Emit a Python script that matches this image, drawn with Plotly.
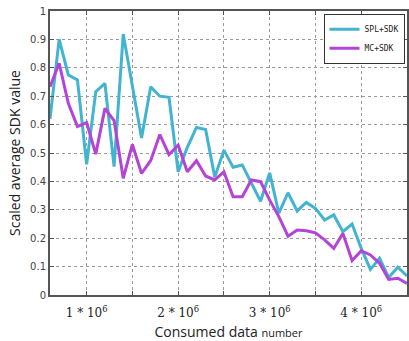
import plotly.graph_objects as go

x_vals = [0.6e6, 0.7e6, 0.8e6, 0.9e6, 1.0e6, 1.1e6, 1.2e6, 1.3e6, 1.4e6, 1.5e6,
          1.6e6, 1.7e6, 1.8e6, 1.9e6, 2.0e6, 2.1e6, 2.2e6, 2.3e6, 2.4e6, 2.5e6,
          2.6e6, 2.7e6, 2.8e6, 2.9e6, 3.0e6, 3.1e6, 3.2e6, 3.3e6, 3.4e6, 3.5e6,
          3.6e6, 3.7e6, 3.8e6, 3.9e6, 4.0e6, 4.1e6, 4.2e6, 4.3e6, 4.4e6, 4.5e6]

spl_sdk = [0.62, 0.90, 0.775, 0.757, 0.46, 0.716, 0.745, 0.452, 0.919, 0.735,
           0.553, 0.733, 0.70, 0.696, 0.434, 0.52, 0.59, 0.583, 0.415, 0.51,
           0.45, 0.458, 0.395, 0.33, 0.43, 0.288, 0.36, 0.296, 0.326, 0.305,
           0.264, 0.282, 0.223, 0.25, 0.164, 0.09, 0.129, 0.062, 0.098, 0.067]

mc_sdk = [0.733, 0.816, 0.675, 0.593, 0.607, 0.496, 0.657, 0.614, 0.411, 0.53,
          0.428, 0.473, 0.565, 0.494, 0.528, 0.434, 0.473, 0.419, 0.405, 0.434,
          0.346, 0.346, 0.405, 0.399, 0.334, 0.276, 0.207, 0.229, 0.226, 0.219,
          0.194, 0.164, 0.217, 0.121, 0.156, 0.141, 0.112, 0.055, 0.059, 0.041]

x_tickvals = [0.5e6, 1.0e6, 1.5e6, 2.0e6, 2.5e6, 3.0e6, 3.5e6, 4.0e6, 4.5e6]
x_ticktext = ["", "1 * 10<sup>6</sup>", "", "2 * 10<sup>6</sup>", "",
              "3 * 10<sup>6</sup>", "", "4 * 10<sup>6</sup>", ""]
y_tickvals = [0, 0.1, 0.2, 0.3, 0.4, 0.5, 0.6, 0.7, 0.8, 0.9, 1.0]
y_ticktext = ["0", "0.1", "0.2", "0.3", "0.4", "0.5", "0.6", "0.7", "0.8", "0.9", "1"]

fig = go.Figure()
fig.add_trace(go.Scatter(x=x_vals, y=spl_sdk, mode="lines", name="SPL+SDK",
                         line=dict(color="#42b4cf", width=3)))
fig.add_trace(go.Scatter(x=x_vals, y=mc_sdk, mode="lines", name="MC+SDK",
                         line=dict(color="#b444d8", width=3)))

axis_common = dict(
    showline=True, linecolor="#555555", linewidth=2, mirror="ticks",
    ticks="inside", ticklen=4, tickcolor="#555555",
    showgrid=True, gridcolor="#9a9a9a", griddash="dot", gridwidth=1,
    zeroline=False,
)

fig.update_layout(
    width=409, height=341,
    margin=dict(l=50, r=0, t=11, b=46),
    paper_bgcolor="white", plot_bgcolor="white",
    showlegend=True,
    legend=dict(x=0.993, y=0.99, xanchor="right", yanchor="top",
                bgcolor="white", bordercolor="#333333", borderwidth=1,
                font=dict(family="DejaVu Sans Mono", size=8, color="#222"),
                tracegroupgap=0, itemwidth=30),
    xaxis=dict(range=[0.6e6, 4.5e6], tickmode="array", tickvals=x_tickvals,
               ticktext=x_ticktext, ticklabelstandoff=6,
               tickfont=dict(family="DejaVu Serif", size=12, color="#222"),
               title=dict(text="Consumed data <span style='font-size:11px'>number</span>",
                          font=dict(family="Open Sans", size=14, color="#222"),
                          standoff=8),
               **axis_common),
    yaxis=dict(range=[0, 1], tickmode="array", tickvals=y_tickvals,
               ticktext=y_ticktext,
               tickfont=dict(family="DejaVu Sans", size=10, color="#444"),
               title=dict(text="Scaled average SDK value",
                          font=dict(family="Open Sans", size=14, color="#222"),
                          standoff=6),
               **axis_common),
)

fig.write_html("out.html", config={"displayModeBar": False},
               post_script="document.body.style.margin='0';document.body.style.overflow='hidden';")
